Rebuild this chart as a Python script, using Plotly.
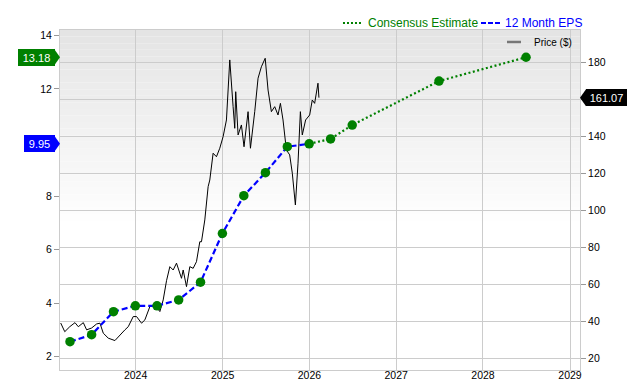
import plotly.graph_objects as go

# ---------------- data ----------------
eps_dates = ["2023-03-31", "2023-06-30", "2023-09-30", "2023-12-31", "2024-03-31", "2024-06-30",
             "2024-09-30", "2024-12-31", "2025-03-31", "2025-06-30", "2025-09-30", "2025-12-31"]
eps_values = [2.56, 2.82, 3.68, 3.90, 3.90, 4.12, 4.78, 6.60, 8.01, 8.87, 9.84, 9.95]

est_dates = ["2025-12-31", "2026-03-31", "2026-06-30", "2027-06-30", "2028-06-30"]
est_values = [9.95, 10.13, 10.65, 12.29, 13.18]

price_dates = [
    "2023-02-20", "2023-03-09", "2023-03-30", "2023-04-21", "2023-05-05", "2023-05-26",
    "2023-06-09", "2023-06-30", "2023-07-21", "2023-08-04", "2023-08-18", "2023-09-08",
    "2023-10-06", "2023-10-27", "2023-11-17", "2023-12-01", "2023-12-22", "2024-01-05",
    "2024-01-26", "2024-02-09", "2024-03-01", "2024-03-22", "2024-04-12", "2024-04-26",
    "2024-05-10", "2024-05-24", "2024-06-07", "2024-06-21", "2024-07-12", "2024-07-19",
    "2024-08-02", "2024-08-16", "2024-08-30", "2024-09-13", "2024-09-27", "2024-10-04",
    "2024-10-18", "2024-11-01", "2024-11-08", "2024-11-22", "2024-12-06", "2024-12-20",
    "2025-01-03", "2025-01-17", "2025-01-31", "2025-02-14", "2025-02-21", "2025-02-25",
    "2025-03-07", "2025-03-21", "2025-04-01", "2025-04-18", "2025-04-28", "2025-05-16",
    "2025-05-30", "2025-06-13", "2025-06-29", "2025-07-11", "2025-07-25", "2025-08-08",
    "2025-08-22", "2025-09-01", "2025-09-12", "2025-09-26", "2025-10-10", "2025-10-21",
    "2025-11-03", "2025-11-14", "2025-11-24", "2025-12-02", "2025-12-16", "2026-01-02",
    "2026-01-13", "2026-01-23", "2026-02-06", "2026-02-10"]
price_values = [
    39.1, 34.4, 37.1, 39.3, 37.1, 39.3,
    35.4, 36.4, 38.6, 39.0, 33.6, 30.9,
    29.6, 32.7, 35.4, 37.1, 42.6, 42.6,
    39.0, 40.8, 48.0, 48.9, 45.3, 51.6,
    62.0, 69.6, 67.8, 71.5, 63.3, 67.8,
    58.8, 69.6, 68.7, 72.3, 83.1, 83.1,
    94.9, 112.9, 116.5, 131.0, 129.1, 133.7,
    140.0, 149.0, 181.5, 156.2, 144.5, 164.3,
    140.9, 146.3, 134.5, 153.5, 133.7, 153.5,
    171.6, 177.8, 182.4, 165.2, 153.5, 156.2,
    151.7, 158.0, 149.0, 132.8, 130.1, 120.2,
    103.0, 125.6, 153.5, 140.9, 149.0, 151.7,
    159.8, 158.0, 168.9, 161.07]

year_ticks = ["2024-01-01", "2025-01-01", "2026-01-01", "2027-01-01", "2028-01-01", "2029-01-01"]
price_ticks = [20, 40, 60, 80, 100, 120, 140, 160, 180]
price_ticktext = ["20", "40", "60", "80", "100", "120", "140", "", "180"]   # 160 hidden by badge
eps_ticks = [2, 4, 6, 8, 10, 12, 14]
eps_ticktext = ["2", "4", "6", "8", "", "12", "14"]                          # 10 hidden by badge

GREEN = "#008000"
BLUE = "#0000ff"
GRID = "#cccccc"
FONT = "Liberation Sans, Arial, Helvetica, sans-serif"

fig = go.Figure()

# price on yaxis (right side, carries the grid)
fig.add_trace(go.Scatter(x=price_dates, y=price_values, mode="lines",
                         line=dict(color="#000000", width=1), yaxis="y",
                         showlegend=False, hoverinfo="skip"))
# EPS on yaxis2 (left side), drawn on top
fig.add_trace(go.Scatter(x=eps_dates, y=eps_values, mode="lines",
                         line=dict(color=BLUE, width=2.2, dash="6px,3px"), yaxis="y2",
                         showlegend=False))
fig.add_trace(go.Scatter(x=est_dates, y=est_values, mode="lines",
                         line=dict(color=GREEN, width=2.2, dash="2px,2.5px"), yaxis="y2",
                         showlegend=False))
fig.add_trace(go.Scatter(x=eps_dates + est_dates[1:], y=eps_values + est_values[1:], mode="markers",
                         marker=dict(color=GREEN, size=9.5, line=dict(width=0)), yaxis="y2",
                         showlegend=False))

# background gradient (grey at top fading to white)
shapes = []
n = 30
top, bottom = 1.0, 0.42
c0 = 228
for i in range(n):
    y1 = top - (top - bottom) * i / n
    y0 = top - (top - bottom) * (i + 1) / n
    c = int(round(c0 + (255 - c0) * (i + 0.5) / n))
    shapes.append(dict(type="rect", xref="paper", yref="paper", x0=0, x1=1, y0=y0, y1=y1,
                       fillcolor=f"rgb({c},{c},{c})", line=dict(width=0), layer="below"))

# legend swatches (manual)
shapes.append(dict(type="line", xref="paper", yref="paper", x0=0.5442, x1=0.5808, y0=1.0206, y1=1.0206,
                   line=dict(color=GREEN, width=2, dash="2px,2px")))
shapes.append(dict(type="line", xref="paper", yref="paper", x0=0.8096, x1=0.8462, y0=1.0206, y1=1.0206,
                   line=dict(color=BLUE, width=2, dash="5px,2px")))
shapes.append(dict(type="line", xref="paper", yref="paper", x0=0.8596, x1=0.8865, y0=0.9647, y1=0.9647,
                   line=dict(color="#777777", width=2.5)))

# badge tips
shapes.append(dict(type="path", xref="paper", xsizemode="pixel", xanchor=0,
                   yref="y2", ysizemode="pixel", yanchor=est_values[-1],
                   path="M-6,-8.5 L0,0 L-6,8.5 Z", fillcolor=GREEN, line=dict(width=0)))
shapes.append(dict(type="path", xref="paper", xsizemode="pixel", xanchor=0,
                   yref="y2", ysizemode="pixel", yanchor=eps_values[-1],
                   path="M-6,-8.5 L0,0 L-6,8.5 Z", fillcolor=BLUE, line=dict(width=0)))
shapes.append(dict(type="path", xref="paper", xsizemode="pixel", xanchor=1,
                   yref="y", ysizemode="pixel", yanchor=price_values[-1],
                   path="M0,0 L6,-8.5 L6,8.5 Z", fillcolor="#000000", line=dict(width=0)))

annotations = [
    dict(text="Consensus Estimate", xref="paper", yref="paper", x=0.5904, y=1.0206,
         xanchor="left", yanchor="middle", showarrow=False,
         font=dict(family=FONT, size=12, color=GREEN), borderpad=0),
    dict(text="12 Month EPS", xref="paper", yref="paper", x=0.8538, y=1.0206,
         xanchor="left", yanchor="middle", showarrow=False,
         font=dict(family=FONT, size=12, color=BLUE), borderpad=0),
    dict(text="Price ($)", xref="paper", yref="paper", x=0.9096, y=0.9647,
         xanchor="left", yanchor="middle", showarrow=False,
         font=dict(family=FONT, size=10, color="#000000"), borderpad=0),
    dict(text=f"{est_values[-1]:.2f}", xref="paper", yref="y2", x=0, y=est_values[-1],
         xanchor="right", yanchor="middle", xshift=-5.5, showarrow=False,
         width=35, height=15, borderpad=1, borderwidth=0, bgcolor=GREEN,
         font=dict(family=FONT, size=11, color="#ffffff")),
    dict(text=f"{eps_values[-1]:.2f}", xref="paper", yref="y2", x=0, y=eps_values[-1],
         xanchor="right", yanchor="middle", xshift=-5.5, showarrow=False,
         width=29, height=15, borderpad=1, borderwidth=0, bgcolor=BLUE,
         font=dict(family=FONT, size=11, color="#ffffff")),
    dict(text=f"{price_values[-1]:.2f}", xref="paper", yref="y", x=1, y=price_values[-1],
         xanchor="left", yanchor="middle", xshift=5.5, showarrow=False,
         width=39, height=15, borderpad=1, borderwidth=0, bgcolor="#000000",
         font=dict(family=FONT, size=11, color="#ffffff")),
]

fig.update_layout(
    width=640, height=380,
    margin=dict(l=60, r=60, t=30, b=10, autoexpand=False),
    paper_bgcolor="#ffffff", plot_bgcolor="rgba(0,0,0,0)",
    font=dict(family=FONT, size=10.5, color="#000000"),
    showlegend=False,
    shapes=shapes, annotations=annotations,
    xaxis=dict(type="date", range=["2023-02-17", "2029-02-12"],
               tickvals=year_ticks, tickformat="%Y", automargin=False,
               showgrid=True, gridcolor=GRID, gridwidth=1,
               showline=True, linecolor=GRID, linewidth=1, mirror=True,
               ticks="", zeroline=False, tickfont=dict(size=10.5),
               ticklabelstandoff=-5),
    yaxis=dict(side="right", range=[13.67, 197.7], tickmode="array",
               tickvals=price_ticks, ticktext=price_ticktext, automargin=False,
               showgrid=True, gridcolor=GRID, gridwidth=1,
               showline=True, linecolor=GRID, linewidth=1, mirror=True,
               ticks="outside", ticklen=5, tickcolor="#999999",
               zeroline=False, tickfont=dict(size=10.5)),
    yaxis2=dict(side="left", overlaying="y", range=[1.503, 14.198], tickmode="array",
                tickvals=eps_ticks, ticktext=eps_ticktext, automargin=False,
                showgrid=False, showline=False,
                ticks="outside", ticklen=5, tickcolor="#999999",
                zeroline=False, tickfont=dict(size=10.5)),
)

fig.write_html("out.html")
